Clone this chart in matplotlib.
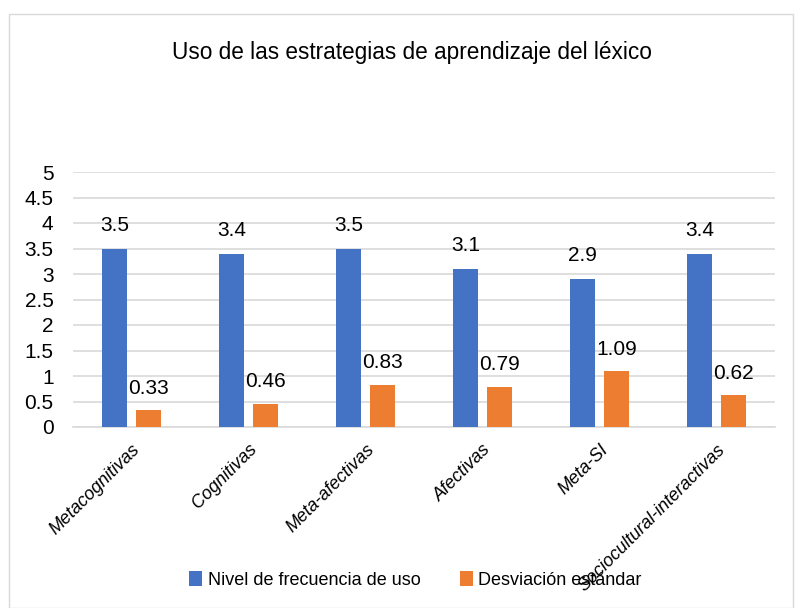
import numpy as np
import matplotlib.pyplot as plt
import matplotlib.transforms as mtransforms
from matplotlib.patches import Rectangle

categorias = ['Metacognitivas', 'Cognitivas', 'Meta-afectivas', 'Afectivas',
              'Meta-SI', 'Sociocultural-interactivas']
nivel = [3.5, 3.4, 3.5, 3.1, 2.9, 3.4]
desviacion = [0.33, 0.46, 0.83, 0.79, 1.09, 0.62]
etiquetas_y = ['0', '0.5', '1', '1.5', '2', '2.5', '3', '3.5', '4', '4.5', '5']

azul = '#4472C4'
naranja = '#ED7D31'
plt.rcParams['font.family'] = ['Liberation Sans', 'DejaVu Sans']

fig = plt.figure(figsize=(8.02, 6.08), dpi=100)
fig.patches.append(Rectangle((9 / 802, 0), 784 / 802, 594 / 608, transform=fig.transFigure,
                             fill=False, edgecolor='#D9D9D9', linewidth=1))
ax = fig.add_axes([73 / 802, 1 - 427 / 608, 702 / 802, 255 / 608])

x = np.arange(len(categorias))
w = 0.22
b1 = ax.bar(x - 0.145, nivel, w, color=azul, label='Nivel de frecuencia de uso', zorder=3)
b2 = ax.bar(x + 0.145, desviacion, w, color=naranja, label='Desviación estándar', zorder=3)

for r, v in zip(b1, nivel):
    ax.annotate(f'{v:g}', (r.get_x() + r.get_width() / 2, v), xytext=(0, 10),
                textcoords='offset points', ha='center', va='bottom', fontsize=15)
for r, v in zip(b2, desviacion):
    ax.annotate(f'{v:g}', (r.get_x() + r.get_width() / 2, v), xytext=(0, 9),
                textcoords='offset points', ha='center', va='bottom', fontsize=15)

ax.set_xlim(-0.5, len(categorias) - 0.5)
ax.set_ylim(0, 5)
ax.set_yticks(np.arange(0, 5.01, 0.5))
ax.set_yticklabels(etiquetas_y, fontsize=15)
ax.yaxis.grid(True, color='#D9D9D9', linewidth=1.2, zorder=0)
ax.set_xticks(x)
ax.set_xticklabels(categorias, rotation=45, ha='right', rotation_mode='anchor',
                   fontsize=13, style='italic')
desplaz = mtransforms.ScaledTranslation(44 / 100, -8 / 100, fig.dpi_scale_trans)
for lab in ax.get_xticklabels():
    lab.set_transform(lab.get_transform() + desplaz)
ax.tick_params(length=0, pad=10)
ax.tick_params(axis='y', pad=14)
for s in ['top', 'right', 'left']:
    ax.spines[s].set_visible(False)
ax.spines['bottom'].set_color('#D9D9D9')
ax.spines['bottom'].set_linewidth(1.2)

fig.text(0.514, 1 - 52 / 608, 'Uso de las estrategias de aprendizaje del léxico',
         ha='center', va='center', fontsize=16.3, color='black')

fig.legend(loc='center', bbox_to_anchor=(0.518, 1 - 580 / 608), ncol=2, frameon=False,
           fontsize=13, handlelength=0.7, handleheight=0.9, handletextpad=0.3,
           columnspacing=2.2)

fig.savefig('out.png', dpi=100)
